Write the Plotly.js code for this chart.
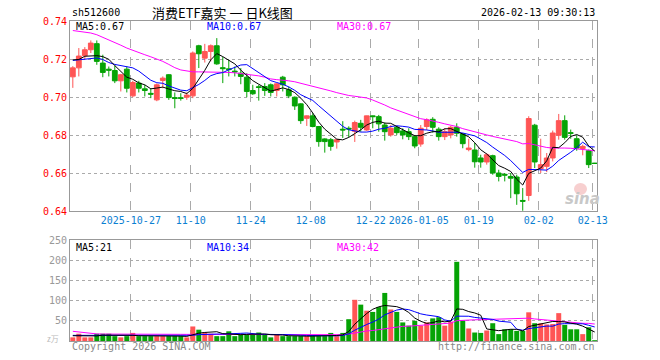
<!DOCTYPE html>
<html><head><meta charset="utf-8">
<script src="https://cdn.plot.ly/plotly-3.0.1.min.js"></script>
<style>html,body{margin:0;padding:0;background:#fff;}#c{width:660px;height:360px;}</style>
</head><body><div id="c"></div>
<script>
const dates = ["2025-10-13","2025-10-14","2025-10-15","2025-10-16","2025-10-17","2025-10-20","2025-10-21","2025-10-22","2025-10-23","2025-10-24","2025-10-27","2025-10-28","2025-10-29","2025-10-30","2025-10-31",
"2025-11-03","2025-11-04","2025-11-05","2025-11-06","2025-11-07","2025-11-10","2025-11-11","2025-11-12","2025-11-13","2025-11-14","2025-11-17","2025-11-18","2025-11-19","2025-11-20","2025-11-21","2025-11-24","2025-11-25","2025-11-26","2025-11-27","2025-11-28",
"2025-12-01","2025-12-02","2025-12-03","2025-12-04","2025-12-05","2025-12-08","2025-12-09","2025-12-10","2025-12-11","2025-12-12","2025-12-15","2025-12-16","2025-12-17","2025-12-18","2025-12-19","2025-12-22","2025-12-23","2025-12-24","2025-12-25","2025-12-26","2025-12-29","2025-12-30","2025-12-31",
"2026-01-05","2026-01-06","2026-01-07","2026-01-08","2026-01-09","2026-01-12","2026-01-13","2026-01-14","2026-01-15","2026-01-16","2026-01-19","2026-01-20","2026-01-21","2026-01-22","2026-01-23","2026-01-26","2026-01-27","2026-01-28","2026-01-29","2026-01-30",
"2026-02-02","2026-02-03","2026-02-04","2026-02-05","2026-02-06","2026-02-09","2026-02-10","2026-02-11","2026-02-12","2026-02-13"];

const openP = [0.7107,0.7154,0.7218,0.7249,0.7281,0.7179,0.7147,0.7140,0.7086,0.7147,0.7007,0.7074,0.7044,0.7020,0.6986,0.7088,0.7118,0.6998,0.6997,0.7000,
0.7007,0.7270,0.7205,0.7240,0.7270,0.7155,0.7149,0.7137,0.7126,0.7105,0.7035,0.7055,0.7056,0.7065,0.7035,0.7105,0.7039,0.7000,0.6965,0.6889,
0.6902,0.6846,0.6781,0.6777,0.6765,0.6832,0.6837,0.6821,0.6863,0.6828,0.6902,0.6898,0.6854,0.6802,0.6842,0.6823,0.6819,0.6793,0.6754,0.6846,
0.6884,0.6832,0.6793,0.6802,0.6842,0.6807,0.6725,0.6723,0.6681,0.6660,0.6693,0.6602,0.6595,0.6584,0.6581,0.6458,0.6484,0.6853,0.6625,0.6637,
0.6681,0.6800,0.6877,0.6814,0.6782,0.6730,0.6719,0.6654];
const highP = [0.7163,0.7258,0.7263,0.7298,0.7298,0.7223,0.7161,0.7167,0.7122,0.7161,0.7086,0.7086,0.7065,0.7047,0.7072,0.7109,0.7121,0.7025,0.7021,0.7025,
0.7240,0.7275,0.7280,0.7277,0.7310,0.7211,0.7196,0.7161,0.7153,0.7126,0.7065,0.7065,0.7074,0.7072,0.7074,0.7112,0.7056,0.7004,0.6968,0.6904,
0.6916,0.6849,0.6784,0.6786,0.6779,0.6874,0.6847,0.6877,0.6881,0.6903,0.6904,0.6907,0.6867,0.6854,0.6849,0.6837,0.6837,0.6802,0.6854,0.6889,
0.6895,0.6842,0.6837,0.6849,0.6863,0.6811,0.6782,0.6760,0.6698,0.6707,0.6698,0.6619,0.6602,0.6602,0.6593,0.6523,0.6900,0.6860,0.6782,0.6707,
0.6825,0.6912,0.6905,0.6830,0.6800,0.6751,0.6725,0.6655];
const lowP = [0.7049,0.7109,0.7198,0.7232,0.7170,0.7105,0.7109,0.7074,0.7030,0.7025,0.7000,0.7025,0.7004,0.6995,0.6979,0.7047,0.6986,0.6942,0.6982,0.6986,
0.6995,0.7153,0.7182,0.7188,0.7170,0.7074,0.7109,0.7109,0.7068,0.7000,0.7012,0.6982,0.7007,0.7004,0.7004,0.7030,0.6995,0.6933,0.6860,0.6849,
0.6842,0.6740,0.6709,0.6719,0.6730,0.6786,0.6790,0.6765,0.6819,0.6823,0.6837,0.6819,0.6772,0.6793,0.6802,0.6779,0.6775,0.6732,0.6740,0.6828,
0.6814,0.6772,0.6775,0.6784,0.6793,0.6732,0.6716,0.6630,0.6630,0.6646,0.6593,0.6558,0.6558,0.6470,0.6435,0.6404,0.6456,0.6628,0.6602,0.6607,
0.6663,0.6777,0.6777,0.6782,0.6719,0.6695,0.6628,0.6651];
const closeP = [0.7154,0.7216,0.7249,0.7284,0.7188,0.7130,0.7142,0.7086,0.7118,0.7047,0.7077,0.7047,0.7035,0.7016,0.7065,0.7100,0.6998,0.6993,0.6994,0.7011,
0.7232,0.7228,0.7240,0.7270,0.7175,0.7150,0.7145,0.7133,0.7109,0.7030,0.7018,0.7051,0.7035,0.7025,0.7070,0.7065,0.7007,0.6954,0.6877,0.6902,
0.6846,0.6767,0.6767,0.6742,0.6777,0.6828,0.6833,0.6867,0.6842,0.6902,0.6898,0.6860,0.6819,0.6837,0.6814,0.6802,0.6793,0.6744,0.6837,0.6881,
0.6842,0.6793,0.6819,0.6842,0.6811,0.6756,0.6733,0.6661,0.6660,0.6698,0.6602,0.6584,0.6591,0.6575,0.6493,0.6454,0.6888,0.6660,0.6646,0.6681,
0.6812,0.6877,0.6789,0.6810,0.6733,0.6742,0.6646,0.6652];

const ma5 = [0.7196,0.7198,0.7215,0.7218,0.7218,0.7213,0.7199,0.7166,0.7133,0.7105,0.7094,0.7075,0.7065,0.7044,0.7048,0.7053,0.7043,0.7034,0.7030,0.7019,
0.7046,0.7092,0.7141,0.7196,0.7229,0.7213,0.7196,0.7175,0.7142,0.7113,0.7087,0.7068,0.7049,0.7032,0.7040,0.7049,0.7040,0.7024,0.6995,0.6961,
0.6917,0.6869,0.6832,0.6805,0.6780,0.6776,0.6789,0.6809,0.6829,0.6854,0.6868,0.6874,0.6864,0.6863,0.6846,0.6826,0.6813,0.6798,0.6798,0.6811,
0.6819,0.6819,0.6834,0.6835,0.6821,0.6804,0.6792,0.6761,0.6724,0.6702,0.6671,0.6641,0.6627,0.6610,0.6569,0.6539,0.6600,0.6614,0.6628,0.6666,
0.6737,0.6735,0.6761,0.6794,0.6804,0.6790,0.6744,0.6717];
const ma10 = [0.7193,0.7196,0.7200,0.7205,0.7206,0.7198,0.7182,0.7172,0.7166,0.7161,0.7154,0.7137,0.7115,0.7089,0.7076,0.7073,0.7059,0.7050,0.7037,0.7034,
0.7049,0.7067,0.7088,0.7113,0.7124,0.7129,0.7144,0.7158,0.7169,0.7171,0.7150,0.7132,0.7112,0.7087,0.7077,0.7068,0.7054,0.7036,0.7013,0.7000,
0.6983,0.6955,0.6928,0.6900,0.6870,0.6847,0.6829,0.6821,0.6817,0.6817,0.6822,0.6832,0.6837,0.6846,0.6850,0.6847,0.6843,0.6831,0.6831,0.6828,
0.6823,0.6816,0.6816,0.6817,0.6816,0.6812,0.6806,0.6797,0.6780,0.6762,0.6738,0.6717,0.6694,0.6667,0.6635,0.6605,0.6621,0.6621,0.6619,0.6617,
0.6638,0.6668,0.6688,0.6711,0.6735,0.6764,0.6740,0.6739];
const ma30 = [0.7350,0.7347,0.7343,0.7337,0.7328,0.7315,0.7302,0.7288,0.7273,0.7258,0.7245,0.7234,0.7223,0.7212,0.7202,0.7188,0.7172,0.7155,0.7143,0.7137,
0.7133,0.7133,0.7133,0.7133,0.7132,0.7131,0.7130,0.7128,0.7125,0.7122,0.7118,0.7112,0.7105,0.7096,0.7092,0.7090,0.7086,0.7081,0.7073,0.7068,
0.7061,0.7051,0.7042,0.7033,0.7024,0.7015,0.7009,0.7005,0.7000,0.6996,0.6985,0.6973,0.6959,0.6944,0.6932,0.6921,0.6909,0.6896,0.6887,0.6882,
0.6876,0.6868,0.6860,0.6854,0.6846,0.6835,0.6826,0.6816,0.6809,0.6802,0.6794,0.6788,0.6782,0.6777,0.6767,0.6755,0.6757,0.6750,0.6743,0.6736,
0.6733,0.6734,0.6733,0.6732,0.6729,0.6727,0.6722,0.6719];

const vol = [9,18,9,9,18,18,18,12,9,12,20,12,12,12,12,12,12,12,12,9,
36,28,21,18,12,12,24,12,18,16,16,21,16,9,16,12,12,12,12,12,
12,12,12,20,12,20,54,102,90,75,72,84,119,78,72,46,38,50,38,46,
56,59,38,48,196,51,31,21,20,26,44,17,29,29,25,25,71,44,44,41,
42,69,40,29,29,17,34,2];
const vma5 = [13,13,12,12,12.6,14.4,14.4,15,15,13.8,14.2,13,13,13.6,13.6,12,12,12,12,11.4,
16.2,19.4,21.2,22.4,23,18.2,17.4,15.6,15.6,16.4,17.2,16.6,17.4,15.6,15.6,14.8,13,12.2,12.8,12,
12,12,12,13.6,13.6,15.2,23.6,41.6,55.6,68.2,78.6,84.6,88,85.6,85,79.8,70.6,56.8,48.8,43.6,
45.6,49.8,47.4,49.4,79.4,78.4,72.8,69.4,63.8,29.8,28.4,25.6,27.2,29,28.8,25,35.8,38.8,41.8,45,
48.4,48,47.2,44.2,41.8,36.8,29.8,22.2];
const vma10 = [14,14,14,14,14,14,14,14,13.5,13.2,14.3,13.7,14,14.3,13.7,13.1,12.5,12.5,12.8,12.5,
14.1,15.7,16.6,17.2,17.2,17.2,18.4,18.4,19,19.7,17.7,17,16.5,15.6,16,16,14.8,14.8,14.2,13.8,
13.4,12.5,12.1,13.2,12.8,13.6,17.8,26.8,34.6,40.9,46.9,54.1,64.8,70.6,76.6,79.2,77.6,72.4,67.2,64.3,
62.7,60.2,52.1,49.1,61.5,62,61.3,58.4,56.6,54.6,53.4,49.2,48.3,46.4,29.3,26.7,30.7,33,35.4,36.9,
36.7,41.9,43,43,43.4,42.6,38.9,34.7];
const vma30 = [24,22,20,18,17.5,17.2,17,17,17,17,17,16.9,16.8,16.8,16.7,16.7,16.6,16.5,16.5,16.4,
16.4,16.3,16.2,16,15.9,15.7,15.6,15.4,15.2,15.1,15.4,15.5,15.7,15.7,15.6,15.4,15.2,15.2,15.3,15.3,
15.1,15.1,15.1,15.3,15.3,15.6,17,20,22.6,24.8,26,27.9,31.1,33.1,35.1,36.3,36.7,38,38.7,39.7,
41,42.3,43,44.3,50.3,51.6,52.2,52.5,52.8,53.3,54.3,54.5,55.1,55.4,55.8,56,56.5,54.6,53.1,51.9,
50.9,50.4,47.8,46.2,44.7,43.8,43.6,42];

const tickDates = ["2025-10-27","2025-11-10","2025-11-24","2025-12-08","2025-12-22","2026-01-05","2026-01-19","2026-02-02","2026-02-13"];
const tickLabels = ["2025-10-27","11-10","11-24","12-08","12-22","2026-01-05","01-19","02-02","02-13"];
const priceTicks = [0.64,0.66,0.68,0.70,0.72,0.74];
const volTicks = [50,100,150,200,250];

const xi = dates.map((d,i)=>i);
const tickPos = tickDates.map(d => dates.indexOf(d) - 0.33);
const RED = '#ff5555', GREEN = '#05a305';
const volColors = closeP.map((c,i)=> c > openP[i] ? RED : GREEN);
const MONO = 'DejaVu Sans Mono, monospace';

const traces = [
  {type:'candlestick', x:xi, open:openP, high:highP, low:lowP, close:closeP, xaxis:'x', yaxis:'y',
   increasing:{line:{color:RED,width:1}, fillcolor:RED},
   decreasing:{line:{color:GREEN,width:1}, fillcolor:GREEN},
   whiskerwidth:0, hoverinfo:'skip', showlegend:false},
  {type:'scatter', mode:'lines', x:xi, y:ma30, line:{color:'#ff00ff',width:1}, xaxis:'x', yaxis:'y', hoverinfo:'skip'},
  {type:'scatter', mode:'lines', x:xi, y:ma10, line:{color:'#0000ff',width:1}, xaxis:'x', yaxis:'y', hoverinfo:'skip'},
  {type:'scatter', mode:'lines', x:xi, y:ma5, line:{color:'#000000',width:1}, xaxis:'x', yaxis:'y', hoverinfo:'skip'},
  {type:'bar', x:xi, y:vol, marker:{color:volColors, line:{width:0}}, xaxis:'x2', yaxis:'y2', hoverinfo:'skip'},
  {type:'scatter', mode:'lines', x:xi, y:vma30, line:{color:'#ff00ff',width:1}, xaxis:'x2', yaxis:'y2', hoverinfo:'skip'},
  {type:'scatter', mode:'lines', x:xi, y:vma10, line:{color:'#0000ff',width:1}, xaxis:'x2', yaxis:'y2', hoverinfo:'skip'},
  {type:'scatter', mode:'lines', x:xi, y:vma5, line:{color:'#000000',width:1}, xaxis:'x2', yaxis:'y2', hoverinfo:'skip'}
];

const xr = [-0.47, 87.38];
const axBase = {showline:true, mirror:true, linecolor:'#999', linewidth:1, zeroline:false, ticks:'', fixedrange:true};
const px = v => (v-70)/527, py = v => (341-v)/320;
function ann(text, x, y, color, xanchor, size, family){
  return {text:text, x:px(x), y:py(y), xref:'paper', yref:'paper', xanchor:xanchor||'left', yanchor:'middle',
    showarrow:false, font:{family:family||MONO, size:size||10, color:color||'#000'}};
}
const layout = {
  width:660, height:360, margin:{l:70, r:63, t:21, b:19}, paper_bgcolor:'#fff', plot_bgcolor:'#fff',
  showlegend:false, bargap:0.17, boxgap:0.2, boxgroupgap:0,
  xaxis:Object.assign({}, axBase, {anchor:'y', range:xr, domain:[0,1], tickvals:tickPos, ticktext:tickLabels,
    tickfont:{family:MONO, size:10, color:'#0b80d2'}, showgrid:true, gridcolor:'#aaa', griddash:'dash', gridwidth:1,
    rangeslider:{visible:false}}),
  yaxis:Object.assign({}, axBase, {anchor:'x', domain:[0.4047,1], range:[0.64,0.74], tickvals:priceTicks,
    tickformat:'.2f', tickfont:{family:MONO, size:10, color:'#ff0000'}, showgrid:true, gridcolor:'#aaa', griddash:'dot'}),
  xaxis2:Object.assign({}, axBase, {anchor:'y2', range:xr, domain:[0,1], tickvals:tickPos, showticklabels:false,
    showgrid:true, gridcolor:'#aaa', griddash:'dash', gridwidth:1}),
  yaxis2:Object.assign({}, axBase, {anchor:'x2', domain:[0,0.3156], range:[0,250], tickvals:volTicks,
    tickfont:{family:MONO, size:10, color:'#999'}, showgrid:true, gridcolor:'#aaa', griddash:'dot'}),
  shapes:[
    {type:'circle', xref:'paper', yref:'paper', x0:px(574), x1:px(587), y0:py(195), y1:py(183), fillcolor:'#f7cfcf', line:{width:0}, layer:'below'}
  ],
  annotations:[
    ann('sh512600', 70, 12),
    ann('消费ETF嘉实 一 日K线图', 222.5, 12, '#000', 'center', 13, 'Noto Sans CJK SC'),
    ann('2026-02-13 09:30:13', 597, 12, '#000', 'right'),
    ann('MA5:0.67', 74, 26, '#000'),
    ann('MA10:0.67', 205, 26, '#0000ff'),
    ann('MA30:0.67', 335, 26, '#ff00ff'),
    ann('MA5:21', 74, 247, '#000'),
    ann('MA10:34', 205, 247, '#0000ff'),
    ann('MA30:42', 335, 247, '#ff00ff'),
    ann('Copyright 2026 SINA.COM', 70, 346, '#888'),
    ann('http://finance.sina.com.cn', 597, 346, '#888', 'right'),
    ann('z万', 53, 338, '#bbb', 'center', 8, 'Noto Sans CJK SC'),
    ann('<b><i>sina</i></b>', 582, 199, '#c8c8c8', 'center', 15, 'DejaVu Sans')
  ]
};
Plotly.newPlot('c', traces, layout, {staticPlot:true, displayModeBar:false});
</script></body></html>
